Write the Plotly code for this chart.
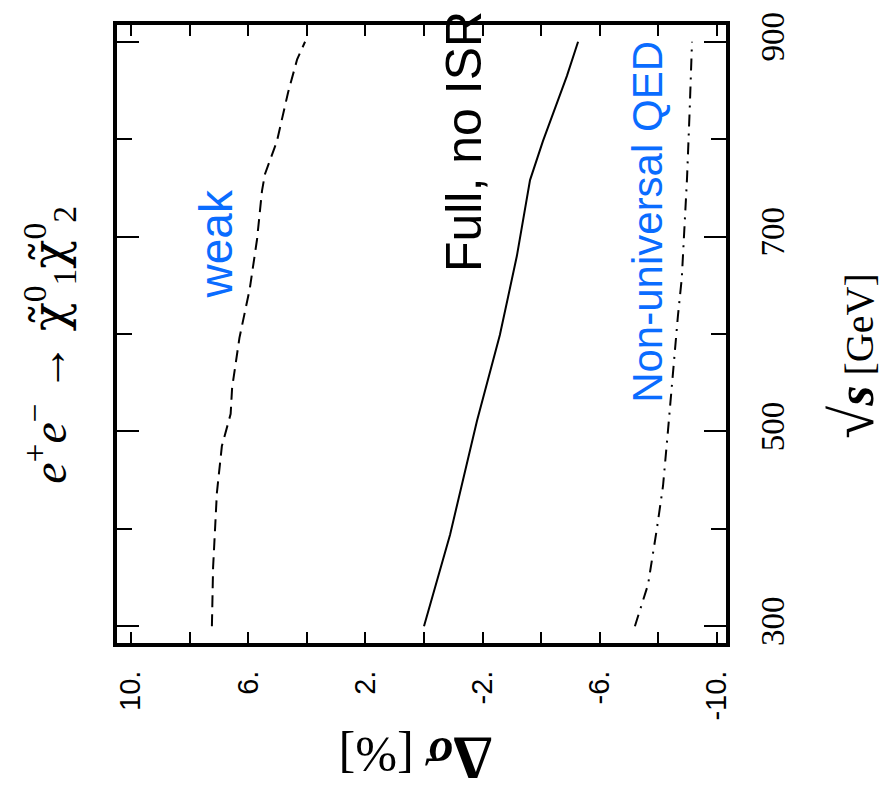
import plotly.graph_objects as go

# centre-of-mass energy sqrt(s) in GeV, and relative correction Delta sigma in %
sqrt_s_weak = [300, 360, 437, 485, 518, 545, 596, 646, 697, 747, 764, 798, 848, 882, 900]
delta_weak = [7.24, 7.2, 7.07, 6.9, 6.6, 6.55, 6.3, 5.95, 5.7, 5.53, 5.43, 5.02, 4.64, 4.33, 4.06]

sqrt_s_full = [300, 394, 511, 599, 680, 758, 798, 865, 900]
delta_full = [0.0, -0.89, -1.81, -2.59, -3.17, -3.62, -4.06, -4.88, -5.26]

sqrt_s_qed = [300, 343, 400, 444, 501, 562, 619, 657, 713, 760, 830, 900]
delta_qed = [-7.2, -7.65, -7.95, -8.16, -8.33, -8.5, -8.67, -8.8, -8.9, -8.98, -9.07, -9.15]

delta_ticks = [10, 6, 2, -2, -6, -10]
delta_ticktext = ["10.", "6.", "2.", "-2.", "-6.", "-10."]
delta_minor = [8, 4, 0, -4, -8]
sqrt_s_ticks = [300, 500, 700, 900]
sqrt_s_minor = [400, 600, 800]

BLUE = "#0a6cff"
SANS = "Liberation Sans, Arial, sans-serif"
SERIF = "Liberation Serif, Times New Roman, serif"

fig = go.Figure()
fig.add_trace(go.Scatter(x=delta_weak, y=sqrt_s_weak, mode="lines",
                         line=dict(color="black", width=2, dash="12px,7px")))
fig.add_trace(go.Scatter(x=delta_full, y=sqrt_s_full, mode="lines",
                         line=dict(color="black", width=2)))
fig.add_trace(go.Scatter(x=delta_qed, y=sqrt_s_qed, mode="lines",
                         line=dict(color="black", width=2, dash="12px,7px,2px,7px")))

W, H = 889, 794
L, R, T, B = 117, 163, 15, 151
pw, ph = W - L - R, H - T - B


def px(xp, yp):
    """pixel position -> paper coordinates"""
    return (xp - L) / pw, (H - B - yp) / ph


annotations = []


def label(text, xp, yp, size, color="black", family=SANS, angle=-90):
    ax, ay = px(xp, yp)
    annotations.append(dict(text=text, x=ax, y=ay, xref="paper", yref="paper",
                            showarrow=False, textangle=angle,
                            xanchor="center", yanchor="middle",
                            font=dict(size=size, color=color, family=family)))


chi = '<span style="font-family:DejaVu Serif">χ̃</span>'
label("weak", 216, 238, 46, BLUE)
label("Full, no ISR", 464, 134, 50)
label("Non-universal QED", 648, 215, 42, BLUE)
label(f"<i>e</i><sup>+</sup><i>e</i><sup>−</sup> → {chi}<sup>0</sup><sub>1</sub>{chi}<sup>0</sup><sub>2</sub>",
      50, 340, 48, family=SERIF)
label('<span style="font-size:60px">√</span><span style="font-size:52px"><b><i>s</i></b></span> [GeV]',
      853, 352, 40, family=SERIF)
label('<b><span style="font-size:62px">Δ</span><i>σ</i></b> [%]', 416, 761, 50, family=SERIF, angle=180)

fig.update_layout(
    width=W, height=H,
    margin=dict(l=L, r=R, t=T, b=B, pad=0),
    paper_bgcolor="white", plot_bgcolor="white",
    showlegend=False,
    annotations=annotations,
    xaxis=dict(
        range=[10.48, -10.31], showgrid=False, zeroline=False,
        showline=True, linecolor="black", linewidth=4, mirror="allticks",
        ticks="inside", ticklen=11, tickwidth=2, tickcolor="black",
        tickvals=delta_ticks, ticktext=delta_ticktext, tickangle=-90,
        ticklabelstandoff=12,
        tickfont=dict(family=SANS, size=29, color="black"),
        minor=dict(tickvals=delta_minor, ticks="inside", ticklen=11,
                   tickwidth=2, tickcolor="black"),
    ),
    yaxis=dict(
        range=[282.8, 917.2], side="right", showgrid=False, zeroline=False,
        showline=True, linecolor="black", linewidth=4, mirror="allticks",
        ticks="inside", ticklen=22, tickwidth=2, tickcolor="black",
        tickvals=sqrt_s_ticks, tickangle=-90,
        ticklabelstandoff=14,
        tickfont=dict(family=SERIF, size=33, color="black"),
        minor=dict(tickvals=sqrt_s_minor, ticks="inside", ticklen=15,
                   tickwidth=2, tickcolor="black"),
    ),
)

fig.write_html("out.html")
